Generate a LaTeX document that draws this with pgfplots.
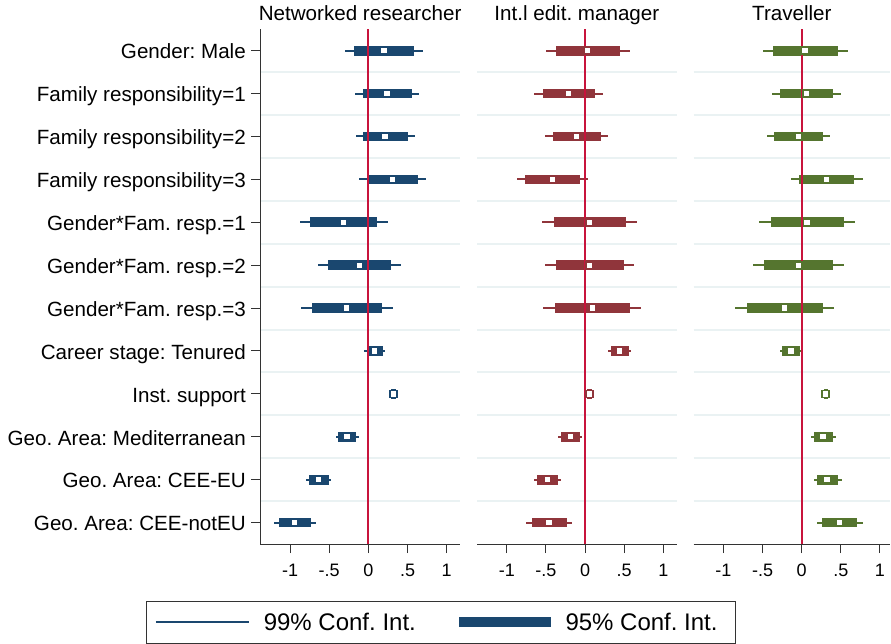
\documentclass[border=0pt]{standalone}
\usepackage{pgfplots}
\pgfplotsset{compat=1.18}
\usepackage{pgfplotstable}
\usepackage{fontspec}
\setmainfont{Liberation Sans}
\frenchspacing
\definecolor{snavy}{RGB}{26,71,111}
\definecolor{smaroon}{RGB}{144,53,59}
\definecolor{sgreen}{RGB}{85,117,47}
\definecolor{sred}{RGB}{200,20,60}
\definecolor{sgrid}{RGB}{234,242,243}
\definecolor{saxis}{RGB}{51,51,51}

% y l99 h99 l95 h95 est
\pgfplotstableread{
y   l99    h99    l95    h95    est
12  -0.298 0.703  -0.183 0.584  0.200
11  -0.166 0.644  -0.068 0.558  0.239
10  -0.158 0.593  -0.068 0.503  0.213
9   -0.119 0.733  -0.017 0.631  0.307
8   -0.874 0.247  -0.746 0.111  -0.315
7   -0.644 0.418  -0.516 0.286  -0.115
6   -0.861 0.311  -0.716 0.175  -0.277
5   -0.051 0.217  -0.017 0.188  0.081
4   0.280  0.360  0.290  0.350  0.320
3   -0.413 -0.124 -0.388 -0.158 -0.273
2   -0.797 -0.473 -0.759 -0.503 -0.635
1   -1.206 -0.669 -1.142 -0.733 -0.946
}\tabNR
\pgfplotstableread{
y   l99    h99    l95    h95    est
12  -0.502 0.574  -0.370 0.447  0.034
11  -0.647 0.226  -0.536 0.128  -0.209
10  -0.511 0.294  -0.409 0.204  -0.106
9   -0.872 0.038  -0.766 -0.064 -0.417
8   -0.545 0.664  -0.396 0.523  0.055
7   -0.511 0.630  -0.370 0.498  0.055
6   -0.532 0.715  -0.383 0.574  0.094
5   0.298  0.583  0.332  0.557  0.443
4   0.020  0.100  0.030  0.090  0.060
3   -0.345 -0.034 -0.306 -0.064 -0.187
2   -0.651 -0.306 -0.613 -0.345 -0.481
1   -0.749 -0.170 -0.677 -0.230 -0.460
}\tabIEM
\pgfplotstableread{
y   l99    h99    l95    h95    est
12  -0.498 0.587  -0.366 0.464  0.043
11  -0.379 0.502  -0.277 0.400  0.060
10  -0.443 0.366  -0.353 0.272  -0.043
9   -0.136 0.783  -0.034 0.668  0.319
8   -0.540 0.677  -0.391 0.540  0.068
7   -0.617 0.536  -0.481 0.400  -0.043
6   -0.851 0.417  -0.698 0.272  -0.217
5   -0.277 0.004  -0.251 -0.026 -0.136
4   0.270  0.350  0.280  0.340  0.306
3   0.119  0.434  0.153  0.400  0.272
2   0.157  0.511  0.196  0.468  0.323
1   0.196  0.779  0.260  0.706  0.485
}\tabT

\pgfplotsset{
  panel/.style={
    scale only axis, x=78.3pt, y=42.9pt,
    xmin=-1.38, xmax=1.17, ymin=0.5, ymax=12.5,
    anchor=south west,
    axis x line*=bottom, axis y line*=left,
    axis line style={saxis, line width=1pt, -},
    xtick={-1,-0.5,0,0.5,1}, xticklabels={-1,-.5,0,.5,1},
    tick align=outside, major tick length=9pt,
    tick style={saxis, line width=1pt},
    xticklabel style={font=\fontsize{18}{18}\selectfont, anchor=base, inner sep=0pt, yshift=-23.7pt},
    ytick={1,...,12},
    minor ytick={1.5,2.5,...,11.5}, yminorgrids=true, minor tick length=0pt,
    minor grid style={sgrid, line width=2pt},
    title style={font=\fontsize{20.6}{22}\selectfont, at={(0.5,1)}, anchor=base, inner sep=0pt, yshift=2.65pt},
  },
  noy/.style={y axis line style={draw=none}, yticklabels={}, ytick style={draw=none}},
}

\newcommand{\panelplots}[2]{%
  \addplot[forget plot, only marks, mark=none, error bars/.cd, x dir=both, x explicit, error mark=none,
    error bar style={draw=#2, line width=2pt}]
    table[x=est, y=y, x error plus expr={\thisrow{h99}-\thisrow{est}}, x error minus expr={\thisrow{est}-\thisrow{l99}}] {#1};
  \addplot[forget plot, only marks, mark=none, error bars/.cd, x dir=both, x explicit, error mark=none,
    error bar style={draw=#2, line width=9.7pt}]
    table[x=est, y=y, x error plus expr={\thisrow{h95}-\thisrow{est}}, x error minus expr={\thisrow{est}-\thisrow{l95}}] {#1};
  \addplot[forget plot, sred, line width=2pt] coordinates {(0,0.5) (0,12.5)};
  \addplot[forget plot, only marks, mark=square*, mark size=3.5pt, mark options={fill=white, draw=#2, line width=1.7pt}]
    table[x=est, y=y] {#1};
}

\begin{document}
\begin{tikzpicture}
\fill[white] (0,0) rectangle (891pt,644pt);
\useasboundingbox (0,0) rectangle (891pt,644pt);

\begin{axis}[panel, at={(260.3pt,99.95pt)}, title={Networked researcher},
  yticklabels={Geo. Area: CEE-notEU, Geo. Area: CEE-EU, Geo. Area: Mediterranean, Inst. support, Career stage: Tenured, Gender*Fam. resp.=3, Gender*Fam. resp.=2, Gender*Fam. resp.=1, Family responsibility=3, Family responsibility=2, Family responsibility=1, Gender: Male},
  yticklabel style={font=\fontsize{20.6}{22}\selectfont, anchor=base east, inner sep=0pt, xshift=-5.3pt, yshift=-8.3pt},
  legend columns=2, legend cell align=left,
  legend style={at={(-0.5724,-0.11024)}, anchor=north west, draw=saxis, line width=1pt,
    inner sep=0pt, column sep=0pt, row sep=0pt, nodes={inner sep=0pt},
    font=\fontsize{24}{24}\selectfont},
]
\addlegendimage{legend image code/.code={\path[draw=none, fill=none] (0pt,-21pt) rectangle (117.3pt,21pt); \draw[snavy, line width=2pt] (9.4pt,0pt) -- (102.5pt,0pt);}}
\addlegendentry{\makebox[195pt][l]{99\% Conf. Int.}}
\addlegendimage{legend image code/.code={\path[draw=none, fill=none] (0pt,-21pt) rectangle (106.7pt,21pt); \fill[snavy, draw=none] (0pt,-5pt) rectangle (91.7pt,5pt);}}
\addlegendentry{\makebox[170pt][l]{95\% Conf. Int.}}
\panelplots{\tabNR}{snavy}
\end{axis}

\begin{axis}[panel, noy, at={(477pt,99.95pt)}, title={Int.l edit. manager}]
\panelplots{\tabIEM}{smaroon}
\end{axis}

\begin{axis}[panel, noy, at={(693.6pt,99.95pt)}, xmax=1.13, title={Traveller}]
\panelplots{\tabT}{sgreen}
\end{axis}
\end{tikzpicture}
\end{document}
